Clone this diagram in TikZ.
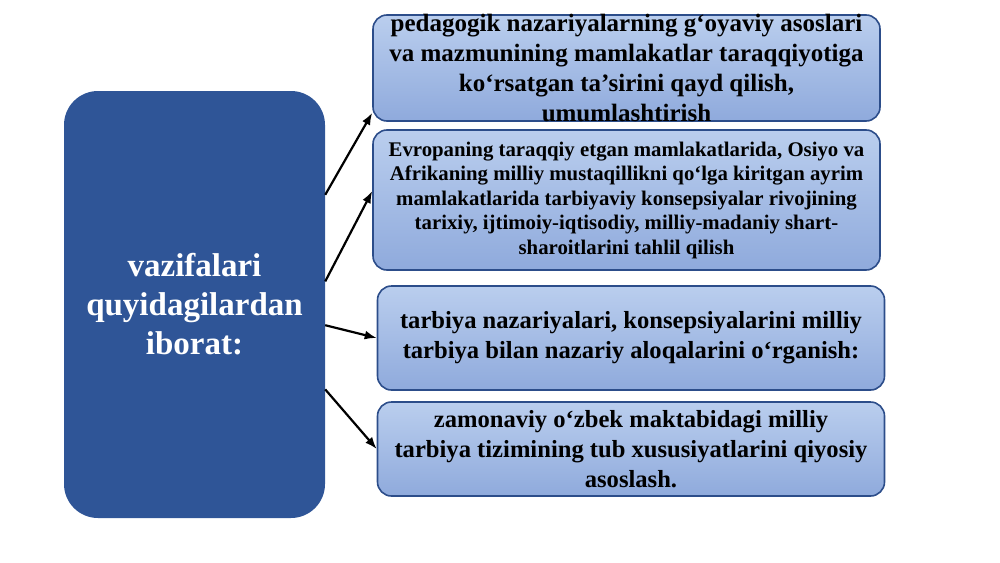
\documentclass[tikz,border=0pt]{standalone}
\usepackage{fontspec}
\setmainfont{Liberation Serif}
\usetikzlibrary{arrows.meta}
\definecolor{darkblue}{RGB}{47,85,151}
\definecolor{boxline}{RGB}{44,77,138}
\definecolor{boxtop}{RGB}{186,206,238}
\definecolor{boxbottom}{RGB}{143,170,220}

\begin{document}
\begin{tikzpicture}[x=1pt,y=-1pt]
\tikzset{bluebox/.style={draw=boxline,line width=1.6pt,rounded corners=14pt,top color=boxtop,bottom color=boxbottom,align=center,inner sep=0pt,minimum width=507pt,font=\bfseries\fontsize{24.6}{30}\selectfont},
arr/.style={-{Latex[length=12pt,width=9pt]},line width=2.2pt}}
\useasboundingbox (0,0) rectangle (1000,562);

\node[fill=darkblue,rounded corners=34pt,minimum width=261pt,minimum height=427pt,inner sep=0pt,align=center,text=white,font=\bfseries\fontsize{33}{39}\selectfont] (vazifa) at (194.5,304.5) {vazifalari\\quyidagilardan\\iborat:};

\node[bluebox,minimum height=106pt,inner ysep=-5pt,font=\bfseries\fontsize{25}{30}\selectfont] (b1) at (626.5,68) {pedagogik nazariyalarning g‘oyaviy asoslari\\va mazmunining mamlakatlar taraqqiyotiga\\ko‘rsatgan ta’sirini qayd qilish,\\umumlashtirish};
\node[bluebox,minimum height=140pt,font=\bfseries\fontsize{20.8}{24.5}\selectfont] (b2) at (626.5,200) {Evropaning taraqqiy etgan mamlakatlarida, Osiyo va\\Afrikaning milliy mustaqillikni qo‘lga kiritgan ayrim\\mamlakatlarida tarbiyaviy konsepsiyalar rivojining\\tarixiy, ijtimoiy-iqtisodiy, milliy-madaniy shart-\\sharoitlarini tahlil qilish};
\node[bluebox,minimum height=104pt] (b3) at (631,338) {tarbiya nazariyalari, konsepsiyalarini milliy\\tarbiya bilan nazariy aloqalarini o‘rganish:};
\node[bluebox,minimum height=94pt] (b4) at (631,449) {zamonaviy o‘zbek maktabidagi milliy\\tarbiya tizimining tub xususiyatlarini qiyosiy\\asoslash.};

\draw[arr] (vazifa.40) -- (b1.190);
\draw[arr] (vazifa.10) -- (b2.178);
\draw[arr] (vazifa.-9) -- (b3.west);
\draw[arr] (vazifa.-33) -- (b4.west);
\end{tikzpicture}
\end{document}
